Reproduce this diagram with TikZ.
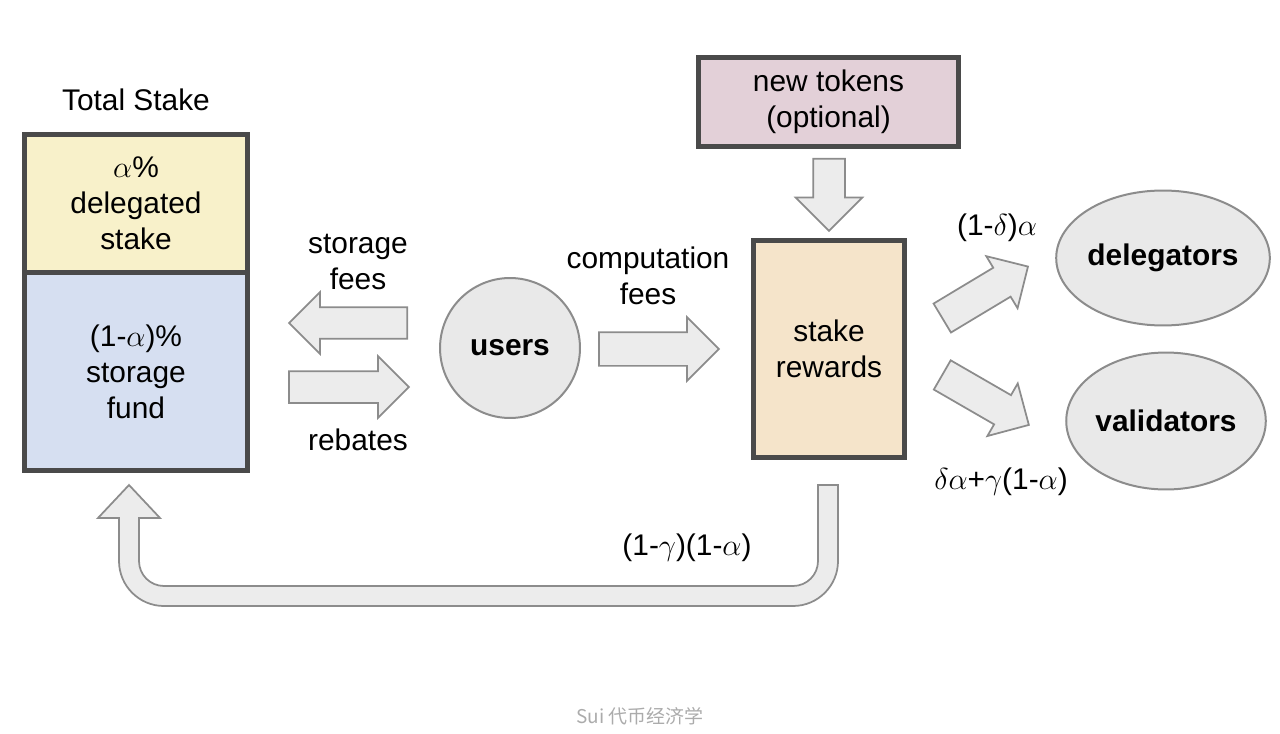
\documentclass[tikz,border=0pt]{standalone}
\usepackage{fontspec}
\setmainfont{Liberation Sans}
\newfontfamily\cjkfont{Noto Sans CJK SC}
\usetikzlibrary{shapes.geometric,shapes.arrows,positioning}
\definecolor{boxline}{HTML}{4A4A4A}
\definecolor{arrowline}{HTML}{8C8C8C}
\definecolor{arrowfill}{HTML}{ECECEC}
\definecolor{delegfill}{HTML}{F8F1CA}
\definecolor{fundfill}{HTML}{D6DFF1}
\definecolor{rewardfill}{HTML}{F5E4CA}
\definecolor{tokenfill}{HTML}{E3D0D8}
\definecolor{partyfill}{HTML}{E9E9E9}
\definecolor{captiongray}{HTML}{ABABAB}
\tikzset{every node/.style={inner sep=0pt, align=center, font=\fontsize{17}{20.5}\selectfont}}
\tikzset{
  stackbox/.style={draw=boxline, line width=0.1cm, rectangle},
  party/.style={draw=arrowline, fill=partyfill, line width=0.04cm, ellipse,
    font=\fontsize{17}{20.5}\selectfont\bfseries},
  fatarrow/.style={single arrow, draw=arrowline, fill=arrowfill, line width=0.035cm,
    inner sep=0.3cm, single arrow head extend=0.3cm, anchor=tail}
}

\begin{document}
\begin{tikzpicture}[x=0.02cm, y=-0.02cm]
\useasboundingbox (0,0) rectangle (1280,733);

% total stake column
\node[stackbox, fill=delegfill, minimum width=4.46cm, minimum height=2.77cm] (deleg) at (136,203.75)
  {$\alpha$\%\\delegated\\stake};
\node[stackbox, fill=fundfill, minimum width=4.46cm, minimum height=3.95cm, below=-0.1cm of deleg] (fund)
  {(1-$\alpha$)\%\\storage\\fund};
\node (totallbl) at (136,100) {Total Stake};

% users and fees
\node[party, circle, minimum size=2.8cm] (users) at (510,348) {users};
\node (storelbl) at (358,262) {storage\\fees};
\node (rebatelbl) at (358,440) {rebates};
\node (complbl) at (648,276) {computation\\fees};
\node[fatarrow, rotate=180, minimum height=2.36cm] (storearr) at (408,323) {};
\node[fatarrow, minimum height=2.4cm] (rebatearr) at (288,387) {};
\node[fatarrow, minimum height=2.4cm, inner sep=0.32cm] (comparr) at (598,349) {};

% rewards
\node[stackbox, fill=tokenfill, minimum width=5.2cm, minimum height=1.78cm] (tokens) at (828.5,102)
  {new tokens\\(optional)};
\node[stackbox, fill=rewardfill, minimum width=3.02cm, minimum height=4.34cm] (rewards) at (829,349)
  {stake\\rewards};
\node[fatarrow, rotate=-90, minimum height=1.44cm, single arrow head extend=0.35cm] (tokenarr) at (829,158) {};

% payouts
\node[party, minimum width=3.8cm, minimum height=2.7cm] (delegators) at (1163,258) {delegators};
\node[party, minimum width=3.76cm, minimum height=2.74cm] (validators) at (1166,421) {validators};
\node[fatarrow, rotate=31, minimum height=2cm, inner sep=0.32cm, single arrow head extend=0.27cm] (delegarr) at (941.5,318.5) {};
\node[fatarrow, rotate=-30, minimum height=2cm, inner sep=0.32cm, single arrow head extend=0.27cm] (validarr) at (941.5,374.5) {};
\node (delegshare) at (997,228) {(1-$\delta$)$\alpha$};
\node (validshare) at (1001,482) {$\delta\alpha$+$\gamma$(1-$\alpha$)};

% back to the storage fund
\coordinate (retstart) at (828,485);
\coordinate (rettip) at (129,485);
\draw[draw=arrowline, fill=arrowfill, line width=0.035cm]
  ([xshift=0.2cm]retstart) -- (838,561) arc[start angle=0, end angle=-90, radius=0.9cm]
  -- (164,606) arc[start angle=270, end angle=180, radius=0.9cm]
  -- (119,518) -- (98,518) -- (rettip) -- (160,518) -- (139,518)
  -- (139,561) arc[start angle=180, end angle=270, radius=0.5cm]
  -- (793,586) arc[start angle=-90, end angle=0, radius=0.5cm]
  -- ([xshift=-0.2cm]retstart) -- cycle;
\node (retshare) at (687,548) {(1-$\gamma$)(1-$\alpha$)};

\node[font=\cjkfont\fontsize{10.8}{13}\selectfont, text=captiongray] (caption) at (640,716) {Sui 代币经济学};
\end{tikzpicture}
\end{document}
